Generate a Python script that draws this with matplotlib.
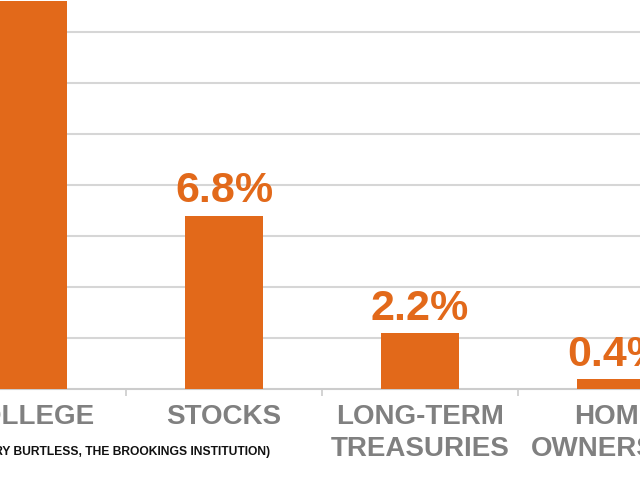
import matplotlib
matplotlib.use("Agg")
import matplotlib.pyplot as plt
from matplotlib.ticker import FixedLocator

categories = ["COLLEGE", "STOCKS", "LONG-TERM\nTREASURIES", "HOME\nOWNERSHIP"]
values = [15.2, 6.8, 2.2, 0.4]
value_labels = ["15.2%", "6.8%", "2.2%", "0.4%"]
gridlines = [2, 4, 6, 8, 10, 12, 14]
source = "(SOURCE: GARY BURTLESS, THE BROOKINGS INSTITUTION)"

ORANGE = "#E2691A"
GRAY = "#808080"

fig = plt.figure(figsize=(6.4, 4.8), dpi=100)
ax = fig.add_axes([0, 91 / 480, 1, 389 / 480])
x = list(range(len(categories)))
ax.bar(x, values, width=0.4, color=ORANGE, zorder=3)
ax.set_xlim(-0.143, 3.122)
ax.set_ylim(0, 15.25)

ax.set_yticks(gridlines)
ax.yaxis.grid(True, color="#d6d6d6", linewidth=1.5, zorder=0)
ax.tick_params(axis="y", left=False, labelleft=False)
for s in ["top", "left", "right"]:
    ax.spines[s].set_visible(False)
ax.spines["bottom"].set_color("#cccccc")
ax.spines["bottom"].set_linewidth(1.5)

ax.set_xticks(x)
ax.set_xticklabels(categories, fontfamily=["Liberation Sans", "DejaVu Sans"],
                   fontweight="bold", fontsize=20, color=GRAY, linespacing=1.31)
ax.tick_params(axis="x", which="major", length=0, pad=10.5)
ax.xaxis.set_minor_locator(FixedLocator([0.5, 1.5, 2.5]))
ax.tick_params(axis="x", which="minor", length=5, width=1.2, color="#cccccc", direction="out")

for xi, v, lab in zip(x, values, value_labels):
    ax.annotate(lab, (xi, v), xytext=(0, 9.5), textcoords="offset points",
                ha="center", va="baseline", fontsize=31, fontweight="bold",
                color=ORANGE, fontfamily=["Liberation Sans", "DejaVu Sans"])

fig.text(270 / 640, 1 - 452 / 480, source, ha="right", va="center",
         fontsize=8.7, fontweight="bold", color="#111111",
         fontfamily=["Liberation Sans Narrow", "Liberation Sans", "DejaVu Sans"])

fig.savefig("out.png", dpi=100)
